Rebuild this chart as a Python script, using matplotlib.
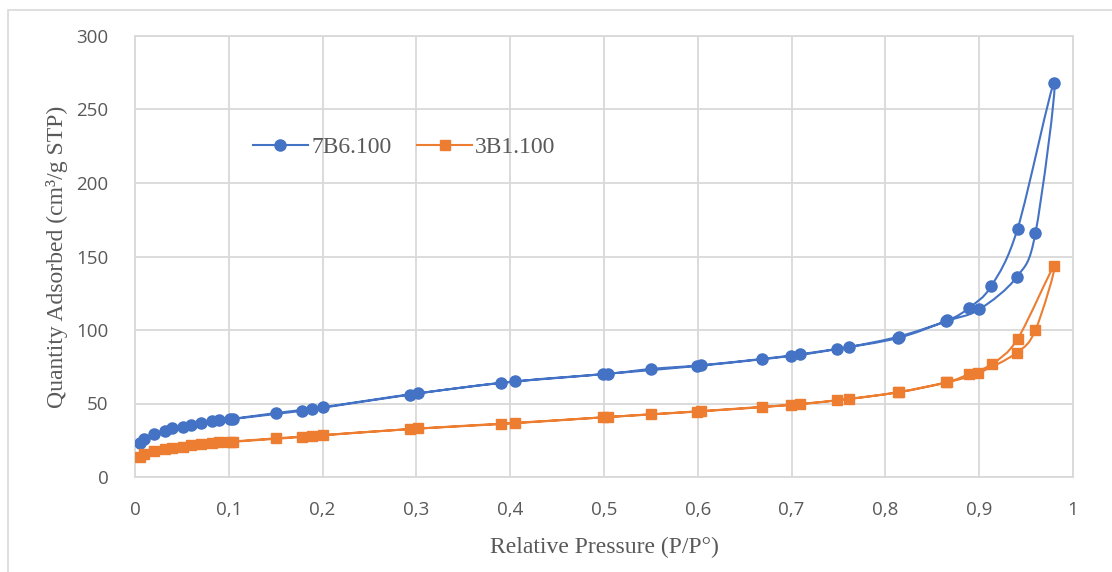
# isotherm chart: 7B6.100 vs 3B1.100 (adsorption + desorption, smoothed lines)
import numpy as np
import matplotlib
matplotlib.use('Agg')
import matplotlib.pyplot as plt
from matplotlib.path import Path
from matplotlib.patches import PathPatch, Rectangle
from matplotlib.lines import Line2D
from matplotlib.ticker import FuncFormatter, MultipleLocator

# relative pressure, adsorption then desorption (one series each, as drawn)
p_7b6 = [0.005, 0.01, 0.02, 0.032, 0.039, 0.051, 0.06, 0.07, 0.082, 0.09, 0.101,
         0.15, 0.2, 0.302, 0.405, 0.499, 0.599, 0.699, 0.748, 0.813, 0.865, 0.9,
         0.94, 0.96, 0.98,
         0.941, 0.913, 0.889, 0.866, 0.814, 0.761, 0.709, 0.668, 0.603, 0.55,
         0.504, 0.39, 0.293, 0.189, 0.178, 0.105]
q_7b6 = [23, 26, 29.5, 31.5, 33, 34, 35.5, 36.5, 37.8, 38.5, 39.3,
         43.5, 47.5, 57, 65, 70, 75.5, 82.3, 87, 94.5, 106, 114,
         136, 166, 268,
         169, 130, 115, 106.5, 95.5, 88.5, 83.5, 80.3, 76, 73.5,
         70.2, 64, 56, 46, 45, 39.5]

p_3b1 = [0.005, 0.01, 0.02, 0.032, 0.039, 0.051, 0.06, 0.07, 0.082, 0.09, 0.101,
         0.15, 0.2, 0.302, 0.405, 0.499, 0.599, 0.699, 0.748, 0.813, 0.865, 0.899,
         0.94, 0.96, 0.98,
         0.941, 0.914, 0.889, 0.866, 0.814, 0.761, 0.709, 0.668, 0.603, 0.55,
         0.504, 0.39, 0.293, 0.189, 0.178, 0.105]
q_3b1 = [13.6, 15.6, 17.7, 19, 19.7, 20.4, 21.5, 22.2, 23, 23.5, 24,
         26.3, 28.5, 33, 36.8, 40.6, 44.5, 49, 52.2, 57.5, 64.3, 70.7,
         84.5, 100, 143.5,
         94, 77, 70, 64.6, 57.8, 53, 49.7, 47.7, 44.8, 42.7,
         40.8, 36, 32.6, 27.8, 27.2, 24]

xticks = [0, 0.1, 0.2, 0.3, 0.4, 0.5, 0.6, 0.7, 0.8, 0.9, 1]

blue = '#4472C4'
orange = '#ED7D31'
grid_c = '#D9D9D9'
tick_c = '#595959'


def smooth_path(xs, ys):
    # excel-like smoothing: cubic bezier, control points from neighbours
    pts = np.column_stack([xs, ys]).astype(float)
    n = len(pts)
    verts = [pts[0]]
    codes = [Path.MOVETO]
    for i in range(n - 1):
        p0 = pts[i - 1] if i > 0 else pts[i]
        p1 = pts[i]
        p2 = pts[i + 1]
        p3 = pts[i + 2] if i + 2 < n else pts[i + 1]
        c1 = p1 + (p2 - p0) / 6.0
        c2 = p2 - (p3 - p1) / 6.0
        verts += [c1, c2, p2]
        codes += [Path.CURVE4] * 3
    return Path(verts, codes)


fig = plt.figure(figsize=(11.12, 5.72), dpi=100)
ax = fig.add_axes([135 / 1112, 95 / 572, 938 / 1112, 441 / 572])

# outer chart border
fig.patches.append(Rectangle((8 / 1112, -0.05), 1.2, (562 + 0.05 * 572) / 572,
                             transform=fig.transFigure, fill=False,
                             edgecolor=grid_c, linewidth=1.2))

for p, q, col, mk, ms in [(p_7b6, q_7b6, blue, 'o', 8), (p_3b1, q_3b1, orange, 's', 6.5)]:
    ax.add_patch(PathPatch(smooth_path(p, q), facecolor='none', edgecolor=col,
                           linewidth=1.5, zorder=3))
    ax.plot(p, q, linestyle='none', marker=mk, markersize=ms, color=col, zorder=4)

ax.set_xlim(0, 1)
ax.set_ylim(0, 300)
ax.set_xticks(xticks)
ax.yaxis.set_major_locator(MultipleLocator(50))
ax.xaxis.set_major_formatter(FuncFormatter(lambda v, pos: ('%g' % round(v, 2)).replace('.', ',')))
ax.grid(True, color=grid_c, linewidth=1.3)
ax.set_axisbelow(True)
for s in ax.spines.values():
    s.set_color(grid_c)
    s.set_linewidth(1.3)
ax.tick_params(length=0, colors=tick_c, labelsize=13.5)
ax.tick_params(axis='x', pad=17)
ax.tick_params(axis='y', pad=19)
for lab in ax.get_xticklabels() + ax.get_yticklabels():
    lab.set_fontfamily('Open Sans')

ax.set_xlabel('Relative Pressure (P/P°)', family='Liberation Serif', fontsize=17,
              color=tick_c, labelpad=13)
ax.set_ylabel('Quantity Adsorbed (cm³/g STP)', family='Liberation Serif', fontsize=17,
              color=tick_c, labelpad=6)

handles = [Line2D([], [], color=blue, marker='o', markersize=8, linewidth=1.5),
           Line2D([], [], color=orange, marker='s', markersize=6.5, linewidth=1.5)]
ax.legend(handles, ['7B6.100', '3B1.100'], ncol=2, frameon=False,
          loc='center left', bbox_to_anchor=(0.1035, 0.748),
          prop={'family': 'Liberation Serif', 'size': 17}, labelcolor=tick_c,
          handlelength=2.3, handletextpad=0.15, columnspacing=1.1)

fig.savefig('out.png', dpi=100)
